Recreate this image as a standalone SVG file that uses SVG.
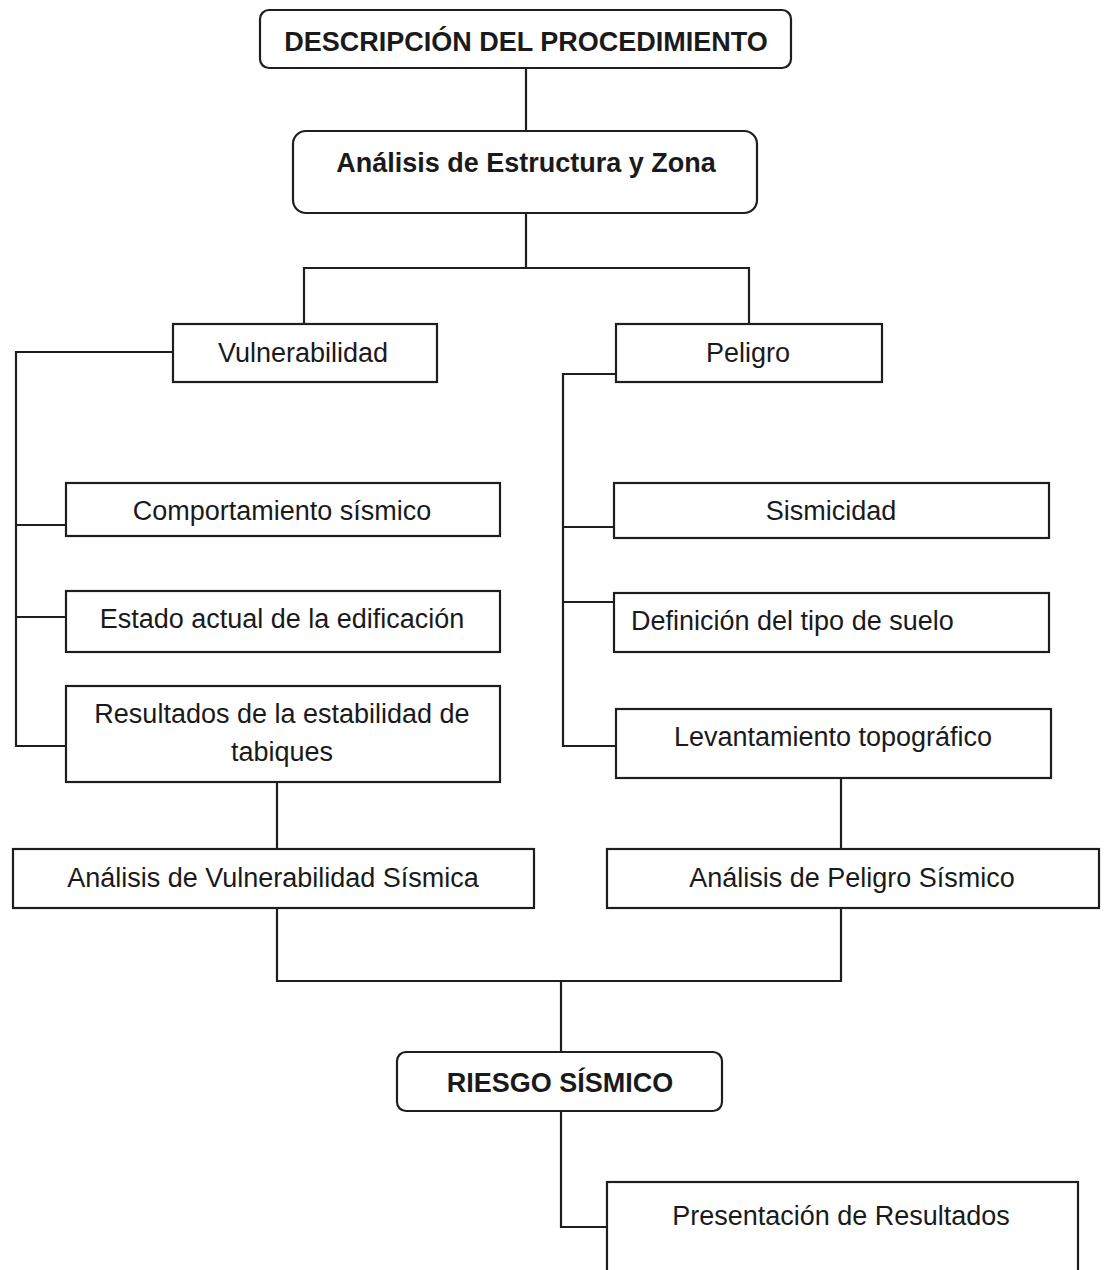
<svg xmlns="http://www.w3.org/2000/svg" width="1106" height="1270" viewBox="0 0 1106 1270">
<style>
.box{fill:#fff;stroke:#1e1e1e;stroke-width:2.2}
.t{font-family:"Liberation Sans",Arial,sans-serif;font-size:27px;fill:#1a1a1a;text-anchor:middle}
.b{font-weight:bold}
.c{fill:none;stroke:#1e1e1e;stroke-width:2.2}
</style>
<rect width="1106" height="1270" fill="#fff"/>
<g id="connectors">
<path class="c" d="M526 68V131"/>
<path class="c" d="M526 213V268M304 324V268H749V324"/>
<path class="c" d="M173 352H16V746H66M16 525H66M16 617H66"/>
<path class="c" d="M616 374H563V746H616M563 527H614M563 602H614"/>
<path class="c" d="M277 782V849"/>
<path class="c" d="M841 778V849"/>
<path class="c" d="M277 908V981H841V908M561 981V1052"/>
<path class="c" d="M561 1111V1227H607"/>
</g>
<g id="n-descripcion">
<rect class="box" x="260" y="10" width="531" height="58" rx="9"/>
<text class="t b" x="526" y="51">DESCRIPCIÓN DEL PROCEDIMIENTO</text>
</g>
<g id="n-analisis-estructura">
<rect class="box" x="293" y="131" width="464" height="82" rx="13"/>
<text class="t b" x="526" y="172">Análisis de Estructura y Zona</text>
</g>
<g id="n-vulnerabilidad">
<rect class="box" x="173" y="324" width="264" height="58"/>
<text class="t" x="303" y="362">Vulnerabilidad</text>
</g>
<g id="n-peligro">
<rect class="box" x="616" y="324" width="266" height="58"/>
<text class="t" x="748" y="362">Peligro</text>
</g>
<g id="n-comportamiento">
<rect class="box" x="66" y="483" width="434" height="53"/>
<text class="t" x="282" y="520">Comportamiento sísmico</text>
</g>
<g id="n-estado">
<rect class="box" x="66" y="591" width="434" height="61"/>
<text class="t" x="282" y="628">Estado actual de la edificación</text>
</g>
<g id="n-resultados">
<rect class="box" x="66" y="686" width="434" height="96"/>
<text class="t" x="282" y="723">Resultados de la estabilidad de</text>
<text class="t" x="282" y="761">tabiques</text>
</g>
<g id="n-sismicidad">
<rect class="box" x="614" y="483" width="435" height="55"/>
<text class="t" x="831" y="520">Sismicidad</text>
</g>
<g id="n-definicion">
<rect class="box" x="614" y="593" width="435" height="59"/>
<text class="t" x="631" y="630" style="text-anchor:start">Definición del tipo de suelo</text>
</g>
<g id="n-levantamiento">
<rect class="box" x="616" y="709" width="435" height="69"/>
<text class="t" x="833" y="746">Levantamiento topográfico</text>
</g>
<g id="n-avs">
<rect class="box" x="13" y="849" width="521" height="59"/>
<text class="t" x="273" y="887">Análisis de Vulnerabilidad Sísmica</text>
</g>
<g id="n-aps">
<rect class="box" x="607" y="849" width="492" height="59"/>
<text class="t" x="852" y="887">Análisis de Peligro Sísmico</text>
</g>
<g id="n-riesgo">
<rect class="box" x="397" y="1052" width="325" height="59" rx="9"/>
<text class="t b" x="560" y="1092">RIESGO SÍSMICO</text>
</g>
<g id="n-presentacion">
<rect class="box" x="607" y="1182" width="471" height="110"/>
<text class="t" x="841" y="1225">Presentación de Resultados</text>
</g>
</svg>
